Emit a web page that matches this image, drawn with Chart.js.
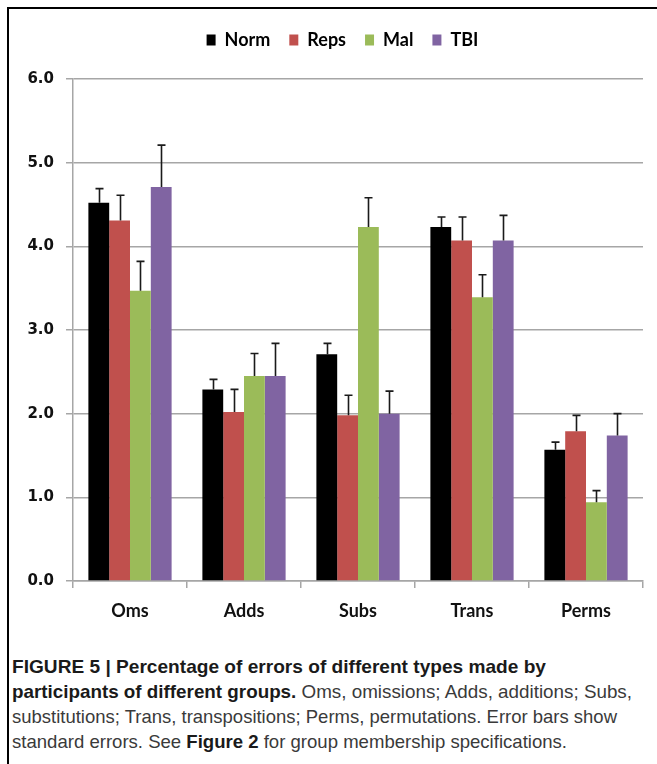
<!DOCTYPE html>
<html><head><meta charset="utf-8">
<script src="https://cdn.jsdelivr.net/npm/chart.js@4/dist/chart.umd.min.js"></script>
<style>
html,body{margin:0;padding:0;background:#fff;}
body{width:657px;height:764px;position:relative;overflow:hidden;}
#frame{position:absolute;left:7px;top:7px;width:700px;height:800px;border-left:2px solid #000;border-top:2px solid #000;}
#wrap{position:absolute;left:0;top:0;width:657px;height:630px;}
#caption{position:absolute;left:12px;top:654px;font-family:"Liberation Sans",Arial,sans-serif;font-size:18.5px;line-height:25px;color:#3a3a3a;white-space:nowrap;}
#caption .ln{display:block;width:max-content;transform-origin:0 50%;}
#caption b{color:#1a1a1a}
</style></head>
<body>
<div id="frame"></div>
<div id="wrap"><canvas id="c" width="657" height="630"></canvas></div>
<div id="caption"><span class="ln" data-w="534"><b>FIGURE 5 | Percentage of errors of different types made by</b></span><span class="ln" data-w="620"><b>participants of different groups.</b> Oms, omissions; Adds, additions; Subs,</span><span class="ln" data-w="605">substitutions; Trans, transpositions; Perms, permutations. Error bars show</span><span class="ln" data-w="555">standard errors. See <b>Figure 2</b> for group membership specifications.</span></div>
<script>
const categories = ['Oms', 'Adds', 'Subs', 'Trans', 'Perms'];
const seriesNames = ['Norm', 'Reps', 'Mal', 'TBI'];
const normValues = [4.52, 2.29, 2.71, 4.23, 1.57];
const repsValues = [4.31, 2.02, 1.98, 4.07, 1.79];
const malValues  = [3.47, 2.45, 4.23, 3.39, 0.94];
const tbiValues  = [4.71, 2.45, 2.00, 4.07, 1.74];
const normErr = [0.17, 0.12, 0.13, 0.12, 0.09];
const repsErr = [0.30, 0.27, 0.24, 0.28, 0.19];
const malErr  = [0.35, 0.27, 0.35, 0.27, 0.14];
const tbiErr  = [0.50, 0.39, 0.27, 0.30, 0.26];
const yTickLabels = ['0.0', '1.0', '2.0', '3.0', '4.0', '5.0', '6.0'];

const colors = ['#000000', '#C0504D', '#9BBB59', '#8064A2'];
const values = [normValues, repsValues, malValues, tbiValues];
const errs = [normErr, repsErr, malErr, tbiErr];
const gridGray = '#A6A6A6';

// fit caption lines to the reference widths
document.querySelectorAll('#caption .ln').forEach(el => {
  const w = el.getBoundingClientRect().width;
  const target = parseFloat(el.dataset.w);
  el.style.transform = 'scaleX(' + (target / w) + ')';
});

const errorBars = {
  id: 'errorBars',
  afterDatasetsDraw(chart) {
    const ctx = chart.ctx;
    const yScale = chart.scales.y;
    ctx.save();
    ctx.strokeStyle = '#1a1a1a';
    ctx.lineWidth = 1.6;
    chart.data.datasets.forEach((ds, di) => {
      const meta = chart.getDatasetMeta(di);
      meta.data.forEach((bar, i) => {
        const v = ds.data[i];
        const e = ds.errors[i];
        const x = Math.round(bar.x) + 0.5;
        const y0 = yScale.getPixelForValue(v);
        const y1 = yScale.getPixelForValue(v + e);
        ctx.beginPath();
        ctx.moveTo(x, y0);
        ctx.lineTo(x, y1);
        ctx.moveTo(x - 4, y1);
        ctx.lineTo(x + 4, y1);
        ctx.stroke();
      });
    });
    ctx.restore();
  }
};

const legendTweak = {
  id: 'legendTweak',
  beforeLayout(chart) {
    const lg = chart.legend;
    if (lg && !lg._tweaked) {
      const f = lg.fit;
      lg.fit = function () { f.call(this); this.height += 20; };
      lg._tweaked = true;
    }
  },
  afterLayout(chart) {
    const lg = chart.legend;
    if (lg) { lg.left += 21; lg.right += 21; }
  }
};

new Chart(document.getElementById('c'), {
  type: 'bar',
  data: {
    labels: categories,
    datasets: seriesNames.map((n, i) => ({
      label: n,
      data: values[i],
      errors: errs[i],
      backgroundColor: colors[i],
      borderWidth: 0,
      categoryPercentage: 0.73,
      barPercentage: 1.0
    }))
  },
  options: {
    responsive: false,
    animation: false,
    layout: { padding: { left: 0, right: 14, top: 12, bottom: 0 } },
    plugins: {
      legend: {
        display: true,
        position: 'top',
        labels: {
          boxWidth: 9,
          boxHeight: 11,
          padding: 19,
          color: '#000',
          font: { family: 'Lato', weight: 'bold', size: 18 }
        }
      },
      tooltip: { enabled: false }
    },
    scales: {
      x: {
        grid: { offset: true, drawOnChartArea: false, drawTicks: true, tickLength: 7, color: gridGray, lineWidth: 1.5 },
        border: { display: true, color: gridGray, width: 1.5 },
        ticks: { color: '#111', padding: 12, font: { family: 'Lato', weight: 'bold', size: 18 } },
        afterFit(s) { s.height = 49; }
      },
      y: {
        min: 0, max: 6,
        ticks: {
          stepSize: 1,
          color: '#111',
          padding: 12,
          font: { family: 'DejaVu Sans', weight: 'bold', size: 15 },
          callback: (v, i) => yTickLabels[i]
        },
        grid: { color: gridGray, lineWidth: 1.5, tickLength: 7 },
        border: { display: true, color: gridGray, width: 1.5 },
        afterFit(s) { s.width = 73; }
      }
    }
  },
  plugins: [errorBars, legendTweak]
});
</script>
</body></html>
